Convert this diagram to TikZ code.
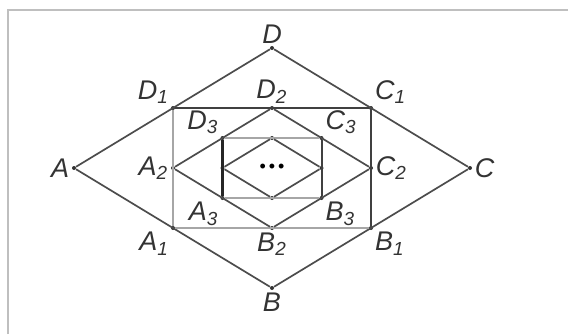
\documentclass[tikz,border=0pt]{standalone}
\usepackage{fontspec}
\setmainfont{Liberation Sans}
\usetikzlibrary{positioning,calc}

\begin{document}
\begin{tikzpicture}[x=0.5pt,y=-0.5pt]
\tikzstyle{pt}=[circle,fill=black!80,inner sep=0pt,minimum size=2pt]
\tikzstyle{every label}=[font=\itshape\fontsize{13.5}{15}\selectfont,text=black!80,inner sep=1pt,label distance=0pt]
\tikzstyle{side}=[black!70,line width=0.85pt]
\tikzstyle{dark}=[black!75,line width=1pt]
\tikzstyle{pale}=[black!35,line width=1.4pt]
\tikzstyle{heavy}=[black!85,line width=1.3pt]
\useasboundingbox (0,0) rectangle (568,334);
\draw[black!25,line width=0.8pt] (8,334) |- (568,10);

% outer rhombus
\node[pt,label=left:{A}] (A) at (74,168) {};
\node[pt,label=above:{D}] (D) at (272,48) {};
\node[pt,label=right:{C}] (C) at (470,168) {};
\node[pt,label=below:{B}] (B) at (272,288) {};

% first rectangle
\node[pt,label=above left:{D\textsubscript{1}}] (D1) at ($(A)!0.5!(D)$) {};
\node[pt,label=above right:{C\textsubscript{1}}] (C1) at ($(D)!0.5!(C)$) {};
\node[pt,label=below right:{B\textsubscript{1}}] (B1) at ($(C)!0.5!(B)$) {};
\node[pt,label=below left:{A\textsubscript{1}}] (A1) at ($(B)!0.5!(A)$) {};

% second rhombus
\node[pt,label=left:{A\textsubscript{2}}] (A2) at ($(A1)!0.5!(D1)$) {};
\node[pt,label=above:{D\textsubscript{2}}] (D2) at ($(D1)!0.5!(C1)$) {};
\node[pt,label=right:{C\textsubscript{2}}] (C2) at ($(C1)!0.5!(B1)$) {};
\node[pt,label=below:{B\textsubscript{2}}] (B2) at ($(B1)!0.5!(A1)$) {};

% second rectangle
\node[pt,label=above left:{D\textsubscript{3}}] (D3) at ($(A2)!0.5!(D2)$) {};
\node[pt,label=above right:{C\textsubscript{3}}] (C3) at ($(D2)!0.5!(C2)$) {};
\node[pt,label=below right:{B\textsubscript{3}}] (B3) at ($(C2)!0.5!(B2)$) {};
\node[pt,label=below left:{A\textsubscript{3}}] (A3) at ($(B2)!0.5!(A2)$) {};

% innermost rhombus
\node[pt] (A4) at ($(A3)!0.5!(D3)$) {};
\node[pt] (D4) at ($(D3)!0.5!(C3)$) {};
\node[pt] (C4) at ($(C3)!0.5!(B3)$) {};
\node[pt] (B4) at ($(B3)!0.5!(A3)$) {};
\node[font=\fontsize{9}{10}\selectfont,inner sep=0pt] (more) at ($(A4)!0.5!(C4)$) {•\,•\,•};

\draw[side] (A) -- (D) -- (C) -- (B) -- (A);
\draw[dark] (D1) -- (C1) -- (B1);
\draw[pale] (B1) -- (A1) -- (D1);
\draw[side] (A2) -- (D2) -- (C2) -- (B2) -- (A2);
\draw[pale] (D3) -- (C3);
\draw[dark] (C3) -- (B3);
\draw[pale] (B3) -- (A3);
\draw[heavy] (A3) -- (D3);
\draw[side] (A4) -- (D4) -- (C4) -- (B4) -- (A4);
\end{tikzpicture}
\end{document}
